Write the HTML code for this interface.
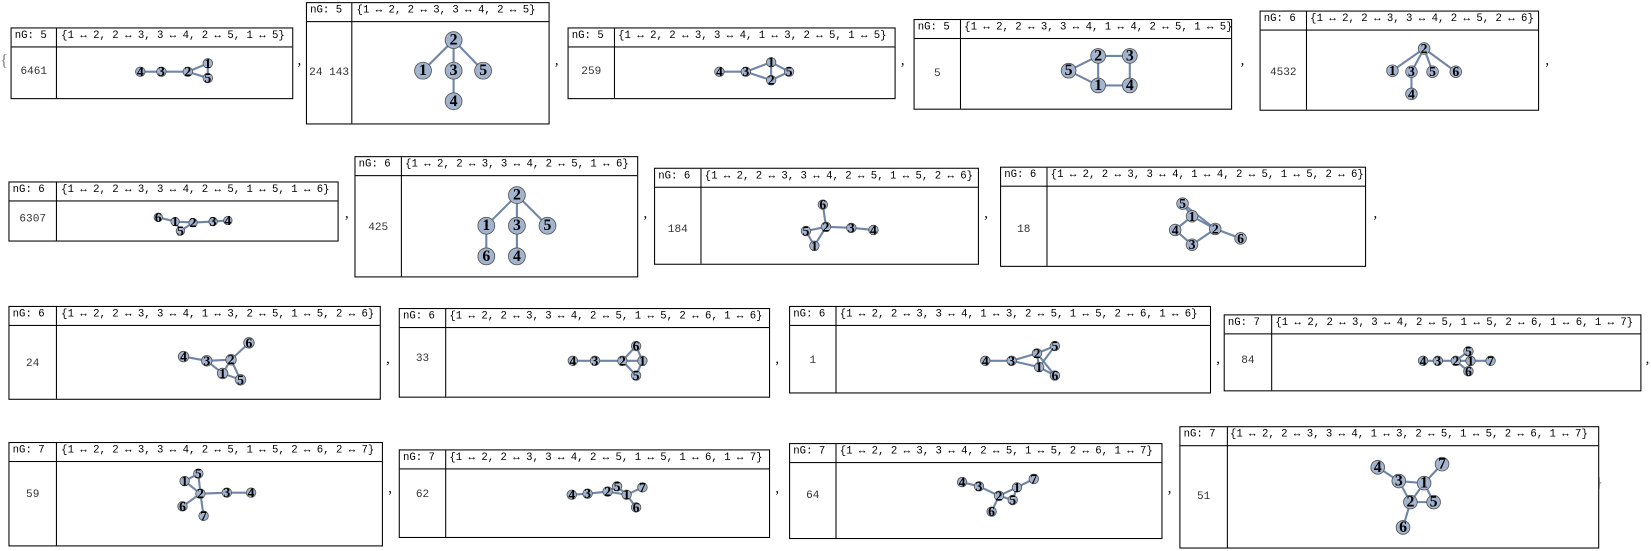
<!DOCTYPE html>
<html><head><meta charset="utf-8"><style>
html,body{margin:0;padding:0;background:#fff;width:1651px;height:550px;overflow:hidden}
#w{position:absolute;left:0;top:0;width:1565px;height:522px;transform:scale(1.0549);transform-origin:0 0}
.t{position:absolute;border:1px solid #000;box-sizing:border-box;background:#fff}
.h{position:absolute;left:0;right:0;top:0;height:17px;border-bottom:1px solid #000;font:10.1px "Liberation Mono",monospace;line-height:16px;white-space:nowrap;color:#000}
.h span.a{position:absolute;left:3px}
.h span.b{position:absolute}
.d{position:absolute;top:0;bottom:0;border-left:1px solid #000;width:0}
.v{position:absolute;font:10.5px "Liberation Mono",monospace;color:#333;text-align:center}
.c{position:absolute;font:14px "Liberation Serif",serif;color:#000}
svg{position:absolute;left:0;top:0}
svg line{stroke:#6f86a8;stroke-width:2}
svg circle{fill:#a3b4cf;stroke:#555;stroke-width:0.8}
svg text{font:bold 13px "Liberation Serif","DejaVu Serif",serif;text-anchor:middle;dominant-baseline:central;fill:#000}
svg text.L{font-size:15px}
</style></head><body><div id="w">

<div class="c" style="left:0;top:49px;font-size:16px;color:#888">{</div>
<div class="c" style="left:1512px;top:449px;font-size:16px;color:#888">}</div>

<!-- Row 1 -->
<div class="t" style="left:10px;top:26px;width:268px;height:68px"><div class="h"><span class="a">nG: 5</span><span class="b" style="left:47px">{1 ↔ 2, 2 ↔ 3, 3 ↔ 4, 2 ↔ 5, 1 ↔ 5}</span></div><div class="d" style="left:42px"></div><div class="v" style="left:0;width:42px;top:35px">6461</div></div>
<div class="c" style="left:282px;top:50px">,</div>

<div class="t" style="left:290px;top:2px;width:231px;height:116px"><div class="h"><span class="a">nG: 5</span><span class="b" style="left:47px">{1 ↔ 2, 2 ↔ 3, 3 ↔ 4, 2 ↔ 5}</span></div><div class="d" style="left:42px"></div><div class="v" style="left:0;width:42px;top:60px">24 143</div></div>
<div class="c" style="left:526px;top:50px">,</div>

<div class="t" style="left:538px;top:26px;width:311px;height:68px"><div class="h"><span class="a">nG: 5</span><span class="b" style="left:47px">{1 ↔ 2, 2 ↔ 3, 3 ↔ 4, 1 ↔ 3, 2 ↔ 5, 1 ↔ 5}</span></div><div class="d" style="left:43px"></div><div class="v" style="left:0;width:43px;top:35px">259</div></div>
<div class="c" style="left:854px;top:50px">,</div>

<div class="t" style="left:866px;top:18px;width:302px;height:86px"><div class="h"><span class="a">nG: 5</span><span class="b" style="left:47px">{1 ↔ 2, 2 ↔ 3, 3 ↔ 4, 1 ↔ 4, 2 ↔ 5, 1 ↔ 5}</span></div><div class="d" style="left:43px"></div><div class="v" style="left:0;width:43px;top:45px">5</div></div>
<div class="c" style="left:1176px;top:50px">,</div>

<div class="t" style="left:1194px;top:10px;width:265px;height:95px"><div class="h"><span class="a">nG: 6</span><span class="b" style="left:47px">{1 ↔ 2, 2 ↔ 3, 3 ↔ 4, 2 ↔ 5, 2 ↔ 6}</span></div><div class="d" style="left:43px"></div><div class="v" style="left:0;width:43px;top:52px">4532</div></div>
<div class="c" style="left:1465px;top:50px">,</div>

<!-- Row 2 -->
<div class="t" style="left:8px;top:172px;width:313px;height:57px"><div class="h"><span class="a">nG: 6</span><span class="b" style="left:49px">{1 ↔ 2, 2 ↔ 3, 3 ↔ 4, 2 ↔ 5, 1 ↔ 5, 1 ↔ 6}</span></div><div class="d" style="left:44px"></div><div class="v" style="left:0;width:44px;top:29px">6307</div></div>
<div class="c" style="left:327px;top:195px">,</div>

<div class="t" style="left:336px;top:148px;width:269px;height:115px"><div class="h"><span class="a">nG: 6</span><span class="b" style="left:47px">{1 ↔ 2, 2 ↔ 3, 3 ↔ 4, 2 ↔ 5, 1 ↔ 6}</span></div><div class="d" style="left:43px"></div><div class="v" style="left:0;width:43px;top:61px">425</div></div>
<div class="c" style="left:610px;top:195px">,</div>

<div class="t" style="left:620px;top:159px;width:308px;height:92px"><div class="h"><span class="a">nG: 6</span><span class="b" style="left:47px">{1 ↔ 2, 2 ↔ 3, 3 ↔ 4, 2 ↔ 5, 1 ↔ 5, 2 ↔ 6}</span></div><div class="d" style="left:43px"></div><div class="v" style="left:0;width:43px;top:52px">184</div></div>
<div class="c" style="left:933px;top:195px">,</div>

<div class="t" style="left:948px;top:158px;width:347px;height:95px"><div class="h"><span class="a">nG: 6</span><span class="b" style="left:47px">{1 ↔ 2, 2 ↔ 3, 3 ↔ 4, 1 ↔ 4, 2 ↔ 5, 1 ↔ 5, 2 ↔ 6}</span></div><div class="d" style="left:43px"></div><div class="v" style="left:0;width:43px;top:53px">18</div></div>
<div class="c" style="left:1302px;top:195px">,</div>

<!-- Row 3 -->
<div class="t" style="left:8px;top:290px;width:353px;height:89px"><div class="h"><span class="a">nG: 6</span><span class="b" style="left:49px">{1 ↔ 2, 2 ↔ 3, 3 ↔ 4, 1 ↔ 3, 2 ↔ 5, 1 ↔ 5, 2 ↔ 6}</span></div><div class="d" style="left:44px"></div><div class="v" style="left:0;width:44px;top:48px">24</div></div>
<div class="c" style="left:366px;top:333px">,</div>

<div class="t" style="left:378px;top:292px;width:352px;height:85px"><div class="h"><span class="a">nG: 6</span><span class="b" style="left:47px">{1 ↔ 2, 2 ↔ 3, 3 ↔ 4, 2 ↔ 5, 1 ↔ 5, 2 ↔ 6, 1 ↔ 6}</span></div><div class="d" style="left:43px"></div><div class="v" style="left:0;width:43px;top:41px">33</div></div>
<div class="c" style="left:735px;top:333px">,</div>

<div class="t" style="left:748px;top:290px;width:400px;height:83px"><div class="h"><span class="a">nG: 6</span><span class="b" style="left:47px">{1 ↔ 2, 2 ↔ 3, 3 ↔ 4, 1 ↔ 3, 2 ↔ 5, 1 ↔ 5, 2 ↔ 6, 1 ↔ 6}</span></div><div class="d" style="left:43px"></div><div class="v" style="left:0;width:43px;top:45px">1</div></div>
<div class="c" style="left:1153px;top:333px">,</div>

<div class="t" style="left:1160px;top:298px;width:396px;height:73px"><div class="h"><span class="a">nG: 7</span><span class="b" style="left:48px">{1 ↔ 2, 2 ↔ 3, 3 ↔ 4, 2 ↔ 5, 1 ↔ 5, 2 ↔ 6, 1 ↔ 6, 1 ↔ 7}</span></div><div class="d" style="left:44px"></div><div class="v" style="left:0;width:44px;top:37px">84</div></div>
<div class="c" style="left:1560px;top:333px">,</div>

<!-- Row 4 -->
<div class="t" style="left:8px;top:419px;width:355px;height:99px"><div class="h"><span class="a">nG: 7</span><span class="b" style="left:49px">{1 ↔ 2, 2 ↔ 3, 3 ↔ 4, 2 ↔ 5, 1 ↔ 5, 2 ↔ 6, 2 ↔ 7}</span></div><div class="d" style="left:44px"></div><div class="v" style="left:0;width:44px;top:43px">59</div></div>
<div class="c" style="left:368px;top:456px">,</div>

<div class="t" style="left:378px;top:426px;width:352px;height:84px"><div class="h"><span class="a">nG: 7</span><span class="b" style="left:47px">{1 ↔ 2, 2 ↔ 3, 3 ↔ 4, 2 ↔ 5, 1 ↔ 5, 1 ↔ 6, 1 ↔ 7}</span></div><div class="d" style="left:43px"></div><div class="v" style="left:0;width:43px;top:36px">62</div></div>
<div class="c" style="left:735px;top:456px">,</div>

<div class="t" style="left:748px;top:420px;width:354px;height:91px"><div class="h"><span class="a">nG: 7</span><span class="b" style="left:47px">{1 ↔ 2, 2 ↔ 3, 3 ↔ 4, 2 ↔ 5, 1 ↔ 5, 2 ↔ 6, 1 ↔ 7}</span></div><div class="d" style="left:43px"></div><div class="v" style="left:0;width:43px;top:43px">64</div></div>
<div class="c" style="left:1107px;top:456px">,</div>

<div class="t" style="left:1118px;top:404px;width:398px;height:116px"><div class="h"><span class="a">nG: 7</span><span class="b" style="left:47px">{1 ↔ 2, 2 ↔ 3, 3 ↔ 4, 1 ↔ 3, 2 ↔ 5, 1 ↔ 5, 2 ↔ 6, 1 ↔ 7}</span></div><div class="d" style="left:44px"></div><div class="v" style="left:0;width:44px;top:60px">51</div></div>

<svg width="1565" height="522">
<!-- T1 -->
<line x1="197" y1="60" x2="178" y2="68"/><line x1="178" y1="68" x2="153" y2="68"/><line x1="153" y1="68" x2="133" y2="68"/><line x1="178" y1="68" x2="197" y2="74"/><line x1="197" y1="60" x2="197" y2="74"/>
<circle cx="133" cy="68" r="4.5"/><text x="133" y="68">4</text><circle cx="153" cy="68" r="4.5"/><text x="153" y="68">3</text><circle cx="178" cy="68" r="4.5"/><text x="178" y="68">2</text><circle cx="197" cy="60" r="4.5"/><text x="197" y="60">1</text><circle cx="197" cy="74" r="4.5"/><text x="197" y="74">5</text>
<!-- T2 -->
<line x1="430" y1="38" x2="401" y2="67"/><line x1="430" y1="38" x2="430" y2="67"/><line x1="430" y1="67" x2="430" y2="96"/><line x1="430" y1="38" x2="458" y2="67"/>
<circle cx="430" cy="38" r="8"/><text class="L" x="430" y="38">2</text><circle cx="401" cy="67" r="8"/><text class="L" x="401" y="67">1</text><circle cx="430" cy="67" r="8"/><text class="L" x="430" y="67">3</text><circle cx="458" cy="67" r="8"/><text class="L" x="458" y="67">5</text><circle cx="430" cy="96" r="8"/><text class="L" x="430" y="96">4</text>
<!-- T3 -->
<line x1="731" y1="59" x2="731" y2="76"/><line x1="731" y1="76" x2="707" y2="68"/><line x1="707" y1="68" x2="682" y2="68"/><line x1="731" y1="76" x2="748" y2="68"/><line x1="731" y1="59" x2="707" y2="68"/><line x1="731" y1="59" x2="748" y2="68"/>
<circle cx="682" cy="68" r="4.5"/><text x="682" y="68">4</text><circle cx="707" cy="68" r="4.5"/><text x="707" y="68">3</text><circle cx="731" cy="59" r="4.5"/><text x="731" y="59">1</text><circle cx="731" cy="76" r="4.5"/><text x="731" y="76">2</text><circle cx="748" cy="68" r="4.5"/><text x="748" y="68">5</text>
<!-- T4 -->
<line x1="1041" y1="81" x2="1041" y2="53"/><line x1="1041" y1="53" x2="1071" y2="53"/><line x1="1071" y1="53" x2="1071" y2="81"/><line x1="1041" y1="81" x2="1071" y2="81"/><line x1="1041" y1="53" x2="1013" y2="67"/><line x1="1041" y1="81" x2="1013" y2="67"/>
<circle cx="1013" cy="67" r="7"/><text class="L" x="1013" y="67">5</text><circle cx="1041" cy="53" r="7"/><text class="L" x="1041" y="53">2</text><circle cx="1071" cy="53" r="7"/><text class="L" x="1071" y="53">3</text><circle cx="1041" cy="81" r="7"/><text class="L" x="1041" y="81">1</text><circle cx="1071" cy="81" r="7"/><text class="L" x="1071" y="81">4</text>
<!-- T5 -->
<line x1="1350" y1="46" x2="1320" y2="67"/><line x1="1350" y1="46" x2="1338" y2="68"/><line x1="1338" y1="68" x2="1338" y2="89"/><line x1="1350" y1="46" x2="1358" y2="68"/><line x1="1350" y1="46" x2="1380" y2="68"/>
<circle cx="1350" cy="46" r="5.5"/><text x="1350" y="46">2</text><circle cx="1320" cy="67" r="5.5"/><text x="1320" y="67">1</text><circle cx="1338" cy="68" r="5.5"/><text x="1338" y="68">3</text><circle cx="1358" cy="68" r="5.5"/><text x="1358" y="68">5</text><circle cx="1380" cy="68" r="5.5"/><text x="1380" y="68">6</text><circle cx="1338" cy="89" r="5.5"/><text x="1338" y="89">4</text>
<!-- T6 -->
<line x1="166" y1="210" x2="183" y2="211"/><line x1="183" y1="211" x2="202" y2="210"/><line x1="202" y1="210" x2="216" y2="209"/><line x1="183" y1="211" x2="171" y2="219"/><line x1="166" y1="210" x2="171" y2="219"/><line x1="166" y1="210" x2="150" y2="206"/>
<circle cx="150" cy="206" r="4"/><text x="150" y="206">6</text><circle cx="166" cy="210" r="4"/><text x="166" y="210">1</text><circle cx="171" cy="219" r="4"/><text x="171" y="219">5</text><circle cx="183" cy="211" r="4"/><text x="183" y="211">2</text><circle cx="202" cy="210" r="4"/><text x="202" y="210">3</text><circle cx="216" cy="209" r="4"/><text x="216" y="209">4</text>
<!-- T7 -->
<line x1="490" y1="185" x2="461" y2="214"/><line x1="490" y1="185" x2="490" y2="214"/><line x1="490" y1="214" x2="490" y2="243"/><line x1="490" y1="185" x2="519" y2="214"/><line x1="461" y1="214" x2="461" y2="243"/>
<circle cx="490" cy="185" r="8"/><text class="L" x="490" y="185">2</text><circle cx="461" cy="214" r="8"/><text class="L" x="461" y="214">1</text><circle cx="490" cy="214" r="8"/><text class="L" x="490" y="214">3</text><circle cx="519" cy="214" r="8"/><text class="L" x="519" y="214">5</text><circle cx="461" cy="243" r="8"/><text class="L" x="461" y="243">6</text><circle cx="490" cy="243" r="8"/><text class="L" x="490" y="243">4</text>
<!-- T8 -->
<line x1="772" y1="233" x2="783" y2="215"/><line x1="783" y1="215" x2="807" y2="216"/><line x1="807" y1="216" x2="828" y2="218"/><line x1="783" y1="215" x2="764" y2="219"/><line x1="772" y1="233" x2="764" y2="219"/><line x1="783" y1="215" x2="780" y2="194"/>
<circle cx="780" cy="194" r="4.5"/><text x="780" y="194">6</text><circle cx="783" cy="215" r="4.5"/><text x="783" y="215">2</text><circle cx="764" cy="219" r="4.5"/><text x="764" y="219">5</text><circle cx="772" cy="233" r="4.5"/><text x="772" y="233">1</text><circle cx="807" cy="216" r="4.5"/><text x="807" y="216">3</text><circle cx="828" cy="218" r="4.5"/><text x="828" y="218">4</text>
<!-- T9 -->
<line x1="1130" y1="205" x2="1152" y2="217"/><line x1="1152" y1="217" x2="1130" y2="232"/><line x1="1130" y1="232" x2="1114" y2="218"/><line x1="1130" y1="205" x2="1114" y2="218"/><line x1="1152" y1="217" x2="1121" y2="193"/><line x1="1130" y1="205" x2="1121" y2="193"/><line x1="1152" y1="217" x2="1176" y2="226"/>
<circle cx="1121" cy="193" r="5.5"/><text x="1121" y="193">5</text><circle cx="1130" cy="205" r="5.5"/><text x="1130" y="205">1</text><circle cx="1152" cy="217" r="5.5"/><text x="1152" y="217">2</text><circle cx="1114" cy="218" r="5.5"/><text x="1114" y="218">4</text><circle cx="1130" cy="232" r="5.5"/><text x="1130" y="232">3</text><circle cx="1176" cy="226" r="5.5"/><text x="1176" y="226">6</text>
<!-- T10 -->
<line x1="211" y1="354" x2="219" y2="341"/><line x1="219" y1="341" x2="196" y2="342"/><line x1="196" y1="342" x2="174" y2="338"/><line x1="211" y1="354" x2="196" y2="342"/><line x1="219" y1="341" x2="228" y2="360"/><line x1="211" y1="354" x2="228" y2="360"/><line x1="219" y1="341" x2="236" y2="325"/>
<circle cx="174" cy="338" r="5"/><text x="174" y="338">4</text><circle cx="196" cy="342" r="5"/><text x="196" y="342">3</text><circle cx="219" cy="341" r="5"/><text x="219" y="341">2</text><circle cx="236" cy="325" r="5"/><text x="236" y="325">6</text><circle cx="211" cy="354" r="5"/><text x="211" y="354">1</text><circle cx="228" cy="360" r="5"/><text x="228" y="360">5</text>
<!-- T11 -->
<line x1="609" y1="342" x2="590" y2="342"/><line x1="590" y1="342" x2="564" y2="342"/><line x1="564" y1="342" x2="543" y2="342"/><line x1="590" y1="342" x2="603" y2="356"/><line x1="609" y1="342" x2="603" y2="356"/><line x1="590" y1="342" x2="603" y2="328"/><line x1="609" y1="342" x2="603" y2="328"/>
<circle cx="543" cy="342" r="4.5"/><text x="543" y="342">4</text><circle cx="564" cy="342" r="4.5"/><text x="564" y="342">3</text><circle cx="590" cy="342" r="4.5"/><text x="590" y="342">2</text><circle cx="603" cy="328" r="4.5"/><text x="603" y="328">6</text><circle cx="609" cy="342" r="4.5"/><text x="609" y="342">1</text><circle cx="603" cy="356" r="4.5"/><text x="603" y="356">5</text>
<!-- T12 -->
<line x1="985" y1="348" x2="983" y2="335"/><line x1="983" y1="335" x2="959" y2="342"/><line x1="959" y1="342" x2="934" y2="342"/><line x1="985" y1="348" x2="959" y2="342"/><line x1="983" y1="335" x2="1000" y2="328"/><line x1="985" y1="348" x2="1000" y2="328"/><line x1="983" y1="335" x2="1000" y2="356"/><line x1="985" y1="348" x2="1000" y2="356"/>
<circle cx="934" cy="342" r="4.5"/><text x="934" y="342">4</text><circle cx="959" cy="342" r="4.5"/><text x="959" y="342">3</text><circle cx="983" cy="335" r="4.5"/><text x="983" y="335">2</text><circle cx="1000" cy="328" r="4.5"/><text x="1000" y="328">5</text><circle cx="985" cy="348" r="4.5"/><text x="985" y="348">1</text><circle cx="1000" cy="356" r="4.5"/><text x="1000" y="356">6</text>
<!-- T13 -->
<line x1="1349" y1="342" x2="1413" y2="342"/><line x1="1380" y1="342" x2="1392" y2="333"/><line x1="1394" y1="342" x2="1392" y2="333"/><line x1="1380" y1="342" x2="1392" y2="352"/><line x1="1394" y1="342" x2="1392" y2="352"/>
<circle cx="1349" cy="342" r="4.5"/><text x="1349" y="342">4</text><circle cx="1363" cy="342" r="4.5"/><text x="1363" y="342">3</text><circle cx="1380" cy="342" r="4.5"/><text x="1380" y="342">2</text><circle cx="1394" cy="342" r="4.5"/><text x="1394" y="342">1</text><circle cx="1413" cy="342" r="4.5"/><text x="1413" y="342">7</text><circle cx="1392" cy="333" r="4.5"/><text x="1392" y="333">5</text><circle cx="1392" cy="352" r="4.5"/><text x="1392" y="352">6</text>
<!-- T14 -->
<line x1="175" y1="456" x2="190" y2="468"/><line x1="190" y1="468" x2="215" y2="467"/><line x1="215" y1="467" x2="238" y2="467"/><line x1="190" y1="468" x2="188" y2="449"/><line x1="175" y1="456" x2="188" y2="449"/><line x1="190" y1="468" x2="173" y2="480"/><line x1="190" y1="468" x2="193" y2="489"/>
<circle cx="188" cy="449" r="4.5"/><text x="188" y="449">5</text><circle cx="175" cy="456" r="4.5"/><text x="175" y="456">1</text><circle cx="190" cy="468" r="4.5"/><text x="190" y="468">2</text><circle cx="215" cy="467" r="4.5"/><text x="215" y="467">3</text><circle cx="238" cy="467" r="4.5"/><text x="238" y="467">4</text><circle cx="173" cy="480" r="4.5"/><text x="173" y="480">6</text><circle cx="193" cy="489" r="4.5"/><text x="193" y="489">7</text>
<!-- T15 -->
<line x1="594" y1="469" x2="576" y2="466"/><line x1="576" y1="466" x2="557" y2="468"/><line x1="557" y1="468" x2="542" y2="469"/><line x1="576" y1="466" x2="585" y2="461"/><line x1="594" y1="469" x2="585" y2="461"/><line x1="594" y1="469" x2="603" y2="481"/><line x1="594" y1="469" x2="609" y2="462"/>
<circle cx="542" cy="469" r="4.5"/><text x="542" y="469">4</text><circle cx="557" cy="468" r="4.5"/><text x="557" y="468">3</text><circle cx="576" cy="466" r="4.5"/><text x="576" y="466">2</text><circle cx="585" cy="461" r="4.5"/><text x="585" y="461">5</text><circle cx="594" cy="469" r="4.5"/><text x="594" y="469">1</text><circle cx="609" cy="462" r="4.5"/><text x="609" y="462">7</text><circle cx="603" cy="481" r="4.5"/><text x="603" y="481">6</text>
<!-- T16 -->
<line x1="964" y1="462" x2="947" y2="470"/><line x1="947" y1="470" x2="928" y2="461"/><line x1="928" y1="461" x2="912" y2="457"/><line x1="947" y1="470" x2="960" y2="474"/><line x1="964" y1="462" x2="960" y2="474"/><line x1="947" y1="470" x2="940" y2="485"/><line x1="964" y1="462" x2="980" y2="454"/>
<circle cx="912" cy="457" r="4.5"/><text x="912" y="457">4</text><circle cx="928" cy="461" r="4.5"/><text x="928" y="461">3</text><circle cx="947" cy="470" r="4.5"/><text x="947" y="470">2</text><circle cx="960" cy="474" r="4.5"/><text x="960" y="474">5</text><circle cx="964" cy="462" r="4.5"/><text x="964" y="462">1</text><circle cx="980" cy="454" r="4.5"/><text x="980" y="454">7</text><circle cx="940" cy="485" r="4.5"/><text x="940" y="485">6</text>
<!-- T17 -->
<line x1="1350" y1="458" x2="1337" y2="476"/><line x1="1337" y1="476" x2="1326" y2="456"/><line x1="1326" y1="456" x2="1306" y2="443"/><line x1="1350" y1="458" x2="1326" y2="456"/><line x1="1337" y1="476" x2="1359" y2="476"/><line x1="1350" y1="458" x2="1359" y2="476"/><line x1="1337" y1="476" x2="1330" y2="500"/><line x1="1350" y1="458" x2="1367" y2="440"/>
<circle cx="1306" cy="443" r="6.5"/><text class="L" x="1306" y="443">4</text><circle cx="1326" cy="456" r="6.5"/><text class="L" x="1326" y="456">3</text><circle cx="1350" cy="458" r="6.5"/><text class="L" x="1350" y="458">1</text><circle cx="1367" cy="440" r="6.5"/><text class="L" x="1367" y="440">7</text><circle cx="1337" cy="476" r="6.5"/><text class="L" x="1337" y="476">2</text><circle cx="1359" cy="476" r="6.5"/><text class="L" x="1359" y="476">5</text><circle cx="1330" cy="500" r="6.5"/><text class="L" x="1330" y="500">6</text>
</svg>
</div></body></html>
